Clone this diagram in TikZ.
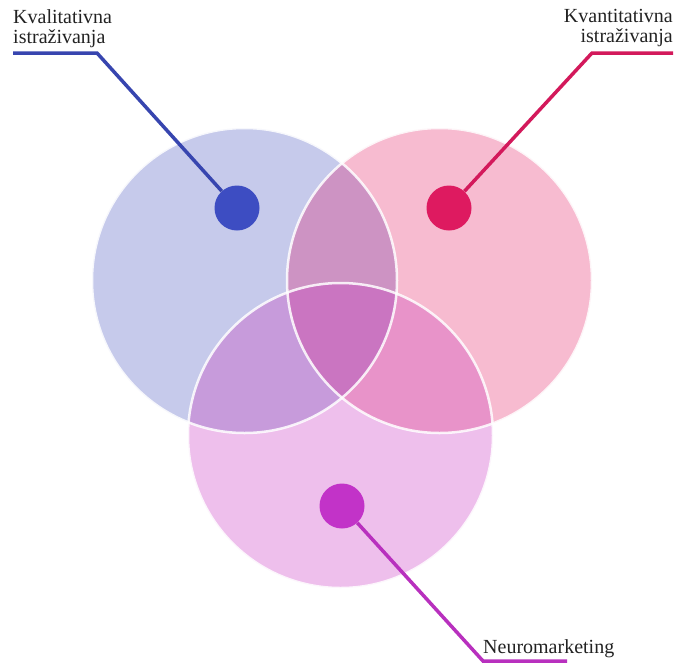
\documentclass[tikz,border=0pt]{standalone}
\usepackage{fontspec}
\setmainfont{Liberation Serif}
\usetikzlibrary{positioning,calc}

% Colours
\definecolor{kvalfill}{HTML}{C6CAEB}
\definecolor{kvantfill}{HTML}{F7BBD0}
\definecolor{neurofill}{HTML}{EEBFEC}
\definecolor{kvalkvant}{HTML}{CD93C3}
\definecolor{kvalneuro}{HTML}{C79BDB}
\definecolor{kvantneuro}{HTML}{E893C9}
\definecolor{allthree}{HTML}{CA75C1}
\definecolor{kvaldark}{HTML}{3D4DC2}
\definecolor{kvantdark}{HTML}{DE1A60}
\definecolor{neurodark}{HTML}{C233C8}
\definecolor{textgray}{HTML}{222222}

\begin{document}
\begin{tikzpicture}[x=1pt,y=-1pt,
    labeltext/.style={font=\fontsize{20}{20}\selectfont, text=textgray, inner sep=0pt},
    dot/.style={circle, minimum size=45pt, inner sep=0pt},
    leader/.style={line width=3.5pt}]
    \useasboundingbox (0,0) rectangle (677,662);

    % Circle centres
    \coordinate (kvalc) at (244.5,280.5);
    \coordinate (kvantc) at (439.5,280.5);
    \coordinate (neuroc) at (340.5,435.5);

    % Circles
    \fill[kvalfill] (kvalc) circle (152.5pt);
    \fill[kvantfill] (kvantc) circle (152.5pt);
    \fill[neurofill] (neuroc) circle (152.5pt);

    % Overlaps
    \begin{scope}
        \clip (kvalc) circle (152.5pt);
        \fill[kvalkvant] (kvantc) circle (152.5pt);
        \fill[kvalneuro] (neuroc) circle (152.5pt);
    \end{scope}
    \begin{scope}
        \clip (kvantc) circle (152.5pt);
        \fill[kvantneuro] (neuroc) circle (152.5pt);
    \end{scope}
    \begin{scope}
        \clip (kvalc) circle (152.5pt);
        \clip (kvantc) circle (152.5pt);
        \fill[allthree] (neuroc) circle (152.5pt);
    \end{scope}

    % White rims
    \foreach \c in {kvalc,kvantc,neuroc}
        \draw[white, line width=2.5pt, opacity=0.85] (\c) circle (152.5pt);

    % Dots
    \node[dot, fill=kvaldark] (kvaldot) at (237,208) {};
    \node[dot, fill=kvantdark] (kvantdot) at (449,208) {};
    \node[dot, fill=neurodark] (neurodot) at (342,506) {};

    % Leader ends
    \coordinate (kvalbend) at (97,53);
    \coordinate (kvalend) at (13,53);
    \coordinate (kvantbend) at (592,53);
    \coordinate (kvantend) at (673,53);
    \coordinate (neurobend) at (483,661);
    \coordinate (neuroend) at (567,661);

    % Leaders
    \draw[leader, kvaldark!90!black] (kvaldot) -- (kvalbend) -- (kvalend);
    \draw[leader, kvantdark!95!black] (kvantdot) -- (kvantbend) -- (kvantend);
    \draw[leader, neurodark!95!black] (neurodot) -- (neurobend) -- (neuroend);

    % Labels
    \node[labeltext, align=left, anchor=north west] (kvaltext) at (13,9) {Kvalitativna\\istraživanja};
    \node[labeltext, align=right, anchor=north east] (kvanttext) at (673,9) {Kvantitativna\\istraživanja};
    \node[labeltext, anchor=base west] (neurotext) at (483,653) {Neuromarketing};
\end{tikzpicture}
\end{document}
